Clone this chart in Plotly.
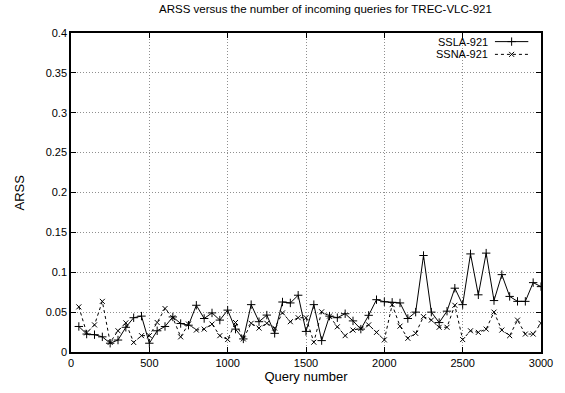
import plotly.graph_objects as go

query = [50 * k for k in range(1, 61)]
ssla = [0.032, 0.0225, 0.0217, 0.019, 0.011, 0.015, 0.031, 0.043, 0.045, 0.011,
        0.0266, 0.032, 0.044, 0.0357, 0.0336, 0.0586, 0.042, 0.049, 0.040, 0.0525,
        0.0287, 0.0164, 0.0594, 0.038, 0.0463, 0.0234, 0.0627, 0.0615, 0.0712, 0.0258,
        0.0594, 0.0143, 0.045, 0.043, 0.048, 0.039, 0.0287, 0.046, 0.0656, 0.0630,
        0.0623, 0.0615, 0.042, 0.050, 0.121, 0.050, 0.0369, 0.0512, 0.080, 0.0594,
        0.123, 0.0717, 0.124, 0.0645, 0.097, 0.0697, 0.0635, 0.0635, 0.087, 0.082]
ssna = [0.0566, 0.024, 0.034, 0.0635, 0.012, 0.0266, 0.0365, 0.012, 0.0205, 0.0205,
        0.037, 0.0545, 0.043, 0.019, 0.035, 0.0275, 0.0287, 0.035, 0.0205, 0.0156,
        0.037, 0.0164, 0.036, 0.030, 0.036, 0.030, 0.049, 0.038, 0.043, 0.043,
        0.0123, 0.0504, 0.045, 0.0316, 0.0205, 0.0275, 0.0295, 0.034, 0.0246, 0.0152,
        0.0594, 0.0324, 0.0172, 0.0234, 0.0443, 0.040, 0.031, 0.031, 0.0586, 0.0156,
        0.0266, 0.0246, 0.0287, 0.050, 0.0275, 0.0205, 0.040, 0.0225, 0.0225, 0.036]

x_ticks = [0, 500, 1000, 1500, 2000, 2500, 3000]
y_ticks = [0, 0.05, 0.1, 0.15, 0.2, 0.25, 0.3, 0.35, 0.4]
y_tick_text = ["0", "0.05", "0.1", "0.15", "0.2", "0.25", "0.3", "0.35", "0.4"]

FONT = "Liberation Sans, Arial, Helvetica, sans-serif"

fig = go.Figure()
fig.add_trace(go.Scatter(x=query, y=ssla, mode="lines+markers", name="SSLA-921",
                         line=dict(color="black", width=1),
                         marker=dict(symbol="cross-thin", size=6, color="black",
                                     line=dict(color="black", width=1)),
                         showlegend=False))
fig.add_trace(go.Scatter(x=query, y=ssna, mode="lines+markers", name="SSNA-921",
                         line=dict(color="black", width=1, dash="3px,3px"),
                         marker=dict(symbol="x-thin", size=5, color="black",
                                     line=dict(color="black", width=1)),
                         showlegend=False))

# legend (gnuplot style: text then sample on the right)
legend_items = [("SSLA-921", "solid", "cross-thin", 6), ("SSNA-921", "3px,3px", "x-thin", 5)]
for i, (name, dash, sym, sz) in enumerate(legend_items):
    yp = 0.973 - i * 0.040
    fig.add_annotation(x=0.889, y=yp, xref="paper", yref="paper", text=name,
                       showarrow=False, xanchor="right", yanchor="middle",
                       borderpad=0,
                       font=dict(family=FONT, size=11, color="black"))
    fig.add_shape(type="line", xref="paper", yref="paper", x0=0.902, x1=0.973,
                  y0=yp, y1=yp, line=dict(color="black", width=1, dash=dash))
    fig.add_trace(go.Scatter(x=[0.9375], y=[yp], xaxis="x2", yaxis="y2", mode="markers",
                             marker=dict(symbol=sym, size=sz, color="black",
                                         line=dict(color="black", width=1)),
                             showlegend=False, hoverinfo="skip"))

axis_common = dict(showline=True, linecolor="black", linewidth=1.5, mirror="ticks",
                   ticks="inside", ticklen=5, tickcolor="black", tickwidth=1,
                   showgrid=True, gridcolor="#8f8f8f", griddash="1px,2px", gridwidth=1,
                   zeroline=False, tickfont=dict(family=FONT, size=11, color="black"))

fig.update_layout(
    width=565, height=393,
    margin=dict(l=71, r=15, t=33, b=35),
    paper_bgcolor="white", plot_bgcolor="white",
    title=dict(text="ARSS versus the number of incoming queries for TREC-VLC-921",
               x=0.576, xanchor="center", y=0.988, yanchor="top",
               font=dict(family=FONT, size=11.5, color="black")),
    xaxis=dict(range=[0, 3000], tickvals=x_ticks, **axis_common,
               title=dict(text="Query number", standoff=3,
                          font=dict(family=FONT, size=13, color="black"))),
    yaxis=dict(range=[0, 0.4], tickvals=y_ticks, ticktext=y_tick_text, **axis_common),
    xaxis2=dict(range=[0, 1], domain=[0, 1], overlaying="x", visible=False, fixedrange=True),
    yaxis2=dict(range=[0, 1], domain=[0, 1], overlaying="y", visible=False, fixedrange=True),
    showlegend=False,
)
fig.add_annotation(x=-0.1086, y=0.5, xref="paper", yref="paper", text="ARSS",
                   showarrow=False, xanchor="center", yanchor="middle", textangle=-90,
                   font=dict(family=FONT, size=13, color="black"))

fig.write_html("out.html", config={"displayModeBar": False},
               post_script="document.body.style.margin='0px';")
